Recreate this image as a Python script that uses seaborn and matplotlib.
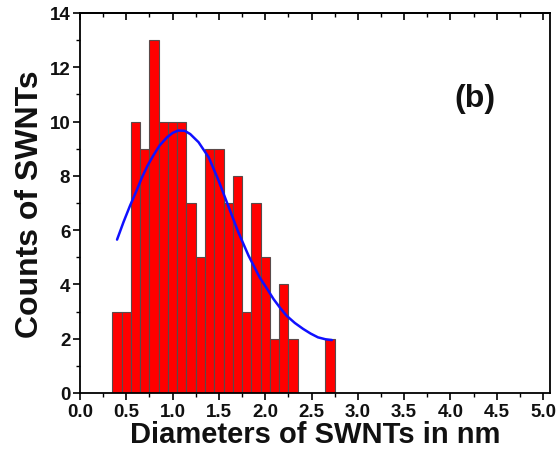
import matplotlib
matplotlib.use("Agg")
import matplotlib.pyplot as plt
from matplotlib.ticker import MultipleLocator, FormatStrFormatter
import seaborn as sns
import pandas as pd

# Histogram data (bin centres in nm, counts)
bin_centers = [0.4, 0.5, 0.6, 0.7, 0.8, 0.9, 1.0, 1.1, 1.2, 1.3,
               1.4, 1.5, 1.6, 1.7, 1.8, 1.9, 2.0, 2.1, 2.2, 2.3, 2.7]
counts = [3, 3, 10, 9, 13, 10, 10, 10, 7, 5,
          9, 9, 7, 8, 3, 7, 5, 2, 4, 2, 2]

# Fitted curve
fit_x = [0.40, 0.47, 0.54, 0.61, 0.67, 0.73, 0.79, 0.86, 0.94, 1.00, 1.06,
         1.13, 1.19, 1.28, 1.39, 1.49, 1.60, 1.71, 1.82, 1.94, 2.02, 2.09,
         2.16, 2.23, 2.32, 2.41, 2.49, 2.57, 2.65, 2.72]
fit_y = [5.65, 6.30, 6.90, 7.45, 7.95, 8.38, 8.74, 9.12, 9.42, 9.58, 9.67,
         9.66, 9.54, 9.24, 8.68, 7.88, 6.90, 5.92, 5.06, 4.26, 3.84, 3.46,
         3.14, 2.85, 2.58, 2.36, 2.19, 2.05, 1.98, 1.95]

x_label = "Diameters of SWNTs in nm"
y_label = "Counts of SWNTs"
panel_label = "(b)"

sns.set_theme(style="ticks")
plt.rcParams['font.family'] = ['Liberation Sans', 'DejaVu Sans']
plt.rcParams['font.weight'] = 'bold'
plt.rcParams['text.color'] = '#111111'
plt.rcParams['axes.labelcolor'] = '#111111'
plt.rcParams['xtick.labelcolor'] = '#111111'
plt.rcParams['ytick.labelcolor'] = '#111111'

fig = plt.figure(figsize=(5.58, 4.60), dpi=100)
ax = fig.add_axes([0.1434, 0.1435, 0.9857 - 0.1434, 0.9696 - 0.1435])

hist_df = pd.DataFrame({"d": bin_centers, "n": counts})
sns.histplot(data=hist_df, x="d", weights="n", binwidth=0.1, binrange=(0.35, 2.75),
             color="#ff0000", alpha=1.0, edgecolor="#5a4a4a", linewidth=0.8, ax=ax)

fit_df = pd.DataFrame({"x": fit_x, "y": fit_y})
sns.lineplot(data=fit_df, x="x", y="y", color="#1010ff", linewidth=1.8, ax=ax, sort=False)

ax.set_xlim(0, 5.076)
ax.set_ylim(0, 14)
ax.xaxis.set_major_locator(MultipleLocator(0.5))
ax.xaxis.set_minor_locator(MultipleLocator(0.25))
ax.yaxis.set_major_locator(MultipleLocator(2))
ax.yaxis.set_minor_locator(MultipleLocator(1))
ax.xaxis.set_major_formatter(FormatStrFormatter('%.1f'))

for s in ax.spines.values():
    s.set_color("black")
    s.set_linewidth(1.3)

ax.tick_params(axis='both', which='major', length=5, width=1.2, colors='black',
               labelcolor='#111111', labelsize=13.5, pad=2)
ax.tick_params(axis='both', which='minor', length=3, width=1.0, colors='black')
ax.tick_params(axis='x', which='both', top=False, direction='out')

ax2 = ax.secondary_xaxis('top')
ax2.xaxis.set_major_locator(MultipleLocator(0.5))
ax2.xaxis.set_minor_locator(MultipleLocator(0.25))
ax2.tick_params(axis='x', which='major', direction='in', length=5, width=1.2,
                colors='black', labeltop=False)
ax2.tick_params(axis='x', which='minor', direction='in', length=3, width=1.0, colors='black')
ax2.spines['top'].set_linewidth(1.3)
ax2.spines['top'].set_color('black')

for lab in ax.get_xticklabels() + ax.get_yticklabels():
    lab.set_fontweight('bold')

ax.set_xlabel(x_label, fontsize=21, fontweight='bold', labelpad=0)
ax.set_ylabel(y_label, fontsize=23, fontweight='bold', labelpad=3)

ax.text(0.84, 0.775, panel_label, transform=ax.transAxes, fontsize=23,
        fontweight='bold', ha='center', va='center')

fig.savefig("out.png", dpi=100)
